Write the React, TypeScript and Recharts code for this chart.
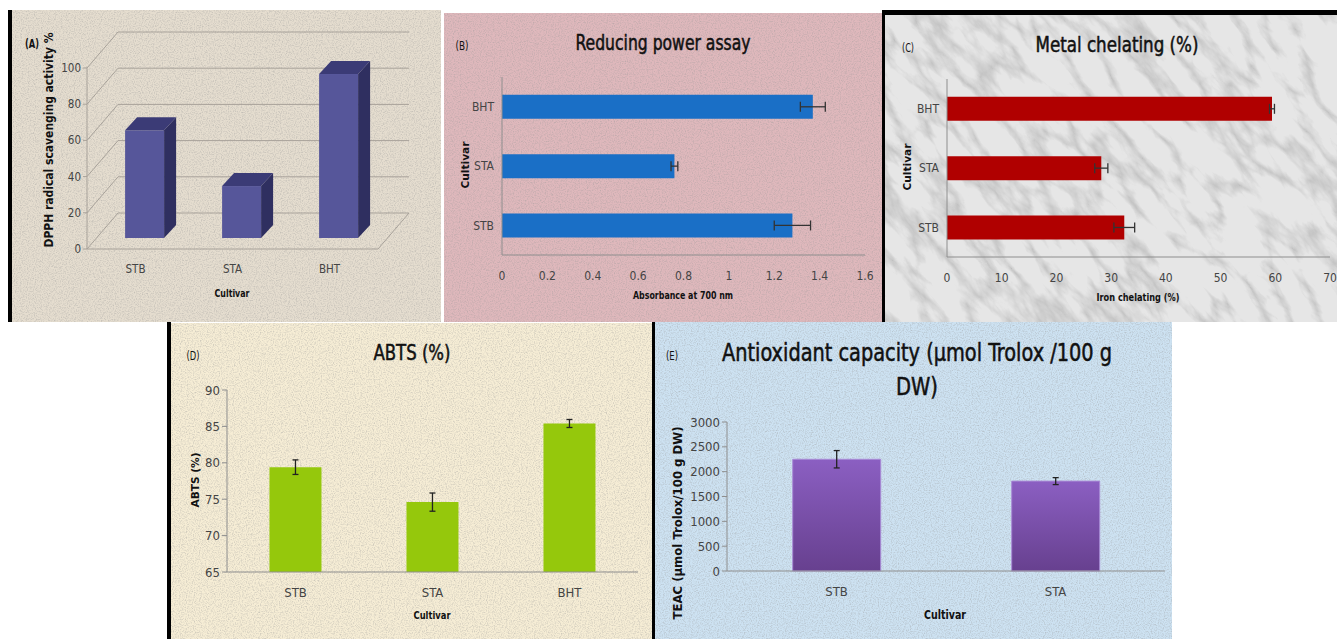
import React from "react";
import { BarChart, Bar, XAxis, YAxis, CartesianGrid, ErrorBar } from "recharts";

const NARROW = "'Liberation Sans Narrow', 'DejaVu Sans Condensed', Roboto, sans-serif";

// (A) DPPH radical scavenging
const dpphCultivars = ["STB", "STA", "BHT"];
const dpphValues = [59.5, 28.7, 90.6];
const dpphTicks = [0, 20, 40, 60, 80, 100];

// (B) Reducing power
const reducingCultivars = ["STB", "STA", "BHT"];
const reducingValues = [1.28, 0.76, 1.37];
const reducingErrors = [0.08, 0.015, 0.055];
const reducingTicks = [0, 0.2, 0.4, 0.6, 0.8, 1, 1.2, 1.4, 1.6];

// (C) Metal chelating
const chelatingCultivars = ["STB", "STA", "BHT"];
const chelatingValues = [32.4, 28.2, 59.4];
const chelatingErrors = [1.9, 1.2, 0.45];
const chelatingTicks = [0, 10, 20, 30, 40, 50, 60, 70];

// (D) ABTS
const abtsCultivars = ["STB", "STA", "BHT"];
const abtsValues = [79.4, 74.6, 85.4];
const abtsErrors = [1.0, 1.25, 0.55];
const abtsTicks = [65, 70, 75, 80, 85, 90];

// (E) TEAC
const teacCultivars = ["STB", "STA"];
const teacValues = [2250, 1810];
const teacErrors = [175, 70];
const teacTicks = [0, 500, 1000, 1500, 2000, 2500, 3000];

const dpphData = dpphCultivars.map((c, i) => ({ cultivar: c, value: dpphValues[i] }));
const reducingData = reducingCultivars.map((c, i) => ({ cultivar: c, value: reducingValues[i], err: reducingErrors[i] }));
const chelatingData = chelatingCultivars.map((c, i) => ({ cultivar: c, value: chelatingValues[i], err: chelatingErrors[i] }));
const abtsData = abtsCultivars.map((c, i) => ({ cultivar: c, value: abtsValues[i], err: abtsErrors[i] }));
const teacData = teacCultivars.map((c, i) => ({ cultivar: c, value: teacValues[i], err: teacErrors[i] }));

// 3d wall depth for panel A
const WALL_DX = 31;
const WALL_DY = 36;
const BOX_OX = 9;
const BOX_OY = 11;
const BOX_DX = 12;
const BOX_DY = 13;

function wallLine(props: any) {
  const { x1, y1, x2, y, height, index } = props;
  const stroke = "#a8a29a";
  const floor = Math.abs(y1 - (y + height)) < 0.5;
  return (
    <g key={`wall-${index}`}>
      <line x1={x1} y1={y1} x2={x1 + WALL_DX} y2={y1 - WALL_DY} stroke={stroke} />
      <line x1={x1 + WALL_DX} y1={y1 - WALL_DY} x2={x2 + WALL_DX} y2={y1 - WALL_DY} stroke={stroke} />
      {floor && (
        <>
          <line x1={x1} y1={y1} x2={x2} y2={y1} stroke={stroke} />
          <line x1={x2} y1={y1} x2={x2 + WALL_DX} y2={y1 - WALL_DY} stroke={stroke} />
        </>
      )}
    </g>
  );
}

function Box3D(props: any) {
  const { x, y, width, height } = props;
  const fx = x + BOX_OX;
  const fy = y - BOX_OY;
  const top = `${fx},${fy} ${fx + BOX_DX},${fy - BOX_DY} ${fx + width + BOX_DX},${fy - BOX_DY} ${fx + width},${fy}`;
  const side = `${fx + width},${fy} ${fx + width + BOX_DX},${fy - BOX_DY} ${fx + width + BOX_DX},${fy + height - BOX_DY} ${fx + width},${fy + height}`;
  return (
    <g>
      <rect x={fx} y={fy} width={width} height={height} fill="#56569a" />
      <polygon points={side} fill="#2f2f60" />
      <polygon points={top} fill="#3b3b76" />
    </g>
  );
}

type Label = {
  text: string;
  x: number;
  y: number;
  size: number;
  bold?: boolean;
  rotate?: boolean;
  title?: boolean;
  len?: number;
};

const labels: Label[] = [
  { text: "(A)", x: 32, y: 43, size: 13, bold: true, len: 14 },
  { text: "DPPH radical scavenging activity %", x: 49, y: 140, size: 11.5, bold: true, rotate: true, len: 215 },
  { text: "Cultivar", x: 232, y: 293, size: 11, bold: true, len: 35 },
  { text: "(B)", x: 462, y: 45, size: 13, len: 13 },
  { text: "Reducing power assay", x: 663, y: 43, size: 21, title: true, len: 175 },
  { text: "Cultivar", x: 465, y: 165, size: 11, bold: true, rotate: true, len: 47 },
  { text: "Absorbance at 700 nm", x: 683, y: 295, size: 11, bold: true, len: 100 },
  { text: "(C)", x: 908, y: 47, size: 13, len: 12 },
  { text: "Metal chelating (%)", x: 1117, y: 45, size: 21, title: true, len: 163 },
  { text: "Cultivar", x: 907, y: 167, size: 11, bold: true, rotate: true, len: 47 },
  { text: "Iron chelating (%)", x: 1138, y: 297, size: 11, bold: true, len: 83 },
  { text: "(D)", x: 193, y: 355, size: 13, len: 13 },
  { text: "ABTS (%)", x: 412, y: 353, size: 21, title: true, len: 77 },
  { text: "ABTS (%)", x: 195, y: 480, size: 11, bold: true, rotate: true, len: 55 },
  { text: "Cultivar", x: 432, y: 615, size: 11, bold: true, len: 37 },
  { text: "(E)", x: 672, y: 355, size: 13, len: 12 },
  { text: "Antioxidant capacity (µmol Trolox /100 g", x: 917, y: 353, size: 24, title: true, len: 390 },
  { text: "DW)", x: 917, y: 387, size: 24, title: true, len: 42 },
  { text: "TEAC (µmol Trolox/100 g DW)", x: 677, y: 523, size: 12.5, bold: true, rotate: true, len: 193 },
  { text: "Cultivar", x: 945, y: 615, size: 12, bold: true, len: 42 },
];

function Texture({ id, width, height, marble }: any) {
  if (marble) {
    return (
      <svg width={width} height={height} style={{ position: "absolute", left: 0, top: 0 }}>
        <filter id={id} x="0" y="0" width="100%" height="100%">
          <feTurbulence type="turbulence" baseFrequency="0.035 0.012" numOctaves={5} seed={7} />
          <feColorMatrix type="matrix" values="0 0 0 0 0.35  0 0 0 0 0.35  0 0 0 0 0.35  -1.6 0 0 0 0.55" />
        </filter>
        <g transform={`rotate(-40 ${width / 2} ${height / 2})`}>
          <rect x={-width} y={-height} width={width * 3} height={height * 3} filter={`url(#${id})`} />
        </g>
      </svg>
    );
  }
  return (
    <svg width={width} height={height} style={{ position: "absolute", left: 0, top: 0 }}>
      <filter id={id} x="0" y="0" width="100%" height="100%">
        <feTurbulence type="fractalNoise" baseFrequency="0.85" numOctaves={2} seed={3} />
        <feColorMatrix type="matrix" values="0 0 0 0 0.3  0 0 0 0 0.3  0 0 0 0 0.3  0.9 0 0 0 -0.38" />
      </filter>
      <rect width={width} height={height} filter={`url(#${id})`} />
    </svg>
  );
}

function Panel({ left, top, width, height, bg, id, marble, children }: any) {
  return (
    <div style={{ position: "absolute", left, top, width, height, background: bg, overflow: "hidden" }}>
      <Texture id={id} width={width} height={height} marble={marble} />
      {children}
    </div>
  );
}

function Strip({ left, top, width, height }: any) {
  return <div style={{ position: "absolute", left, top, width, height, background: "#000" }} />;
}

const axisStroke = "#8e8e8e";

export default function App() {
  const tick = (size: number) => ({ fontSize: size, fill: "#444", fontFamily: NARROW });
  return (
    <div style={{ position: "absolute", left: 0, top: 0, width: 1337, height: 639, background: "#fff", overflow: "hidden" }}>
      {/* (A) */}
      <Panel left={12} top={10} width={429} height={312} bg="#e5ddcf" id="texA">
        <BarChart width={429} height={312} data={dpphData} margin={{ top: 58, right: 63, bottom: 53, left: 45 }} barCategoryGap="30%">
          <CartesianGrid vertical={false} horizontal={wallLine} />
          <XAxis dataKey="cultivar" height={20} axisLine={false} tickLine={false} tickMargin={10} tick={tick(11.5)} />
          <YAxis type="number" domain={[0, 100]} ticks={dpphTicks} width={30} axisLine={{ stroke: "#a8a29a" }} tickLine={{ stroke: "#a8a29a" }} tickSize={4} tick={tick(11.5)} />
          <Bar dataKey="value" shape={<Box3D />} isAnimationActive={false} />
        </BarChart>
      </Panel>
      <Strip left={8} top={10} width={4} height={312} />

      {/* (B) */}
      <Panel left={444} top={13} width={438} height={309} bg="#dfb8bc" id="texB">
        <BarChart layout="vertical" width={438} height={309} data={reducingData} margin={{ top: 64, right: 17, bottom: 47, left: 28 }} barCategoryGap="30%">
          <XAxis type="number" domain={[0, 1.6]} ticks={reducingTicks} height={20} axisLine={{ stroke: axisStroke }} tickLine={false} tickMargin={10} tick={tick(12)} />
          <YAxis type="category" dataKey="cultivar" reversed width={30} axisLine={{ stroke: axisStroke }} tickLine={false} tick={tick(12)} />
          <Bar dataKey="value" fill="#1a6fc6" isAnimationActive={false}>
            <ErrorBar dataKey="err" direction="x" width={5} stroke="#333" strokeWidth={1.3} />
          </Bar>
        </BarChart>
      </Panel>

      {/* (C) */}
      <Panel left={885} top={15} width={452} height={307} bg="#e6e6e6" id="texC" marble>
        <BarChart layout="vertical" width={452} height={307} data={chelatingData} margin={{ top: 64, right: 7, bottom: 45, left: 32 }} barCategoryGap="30%">
          <XAxis type="number" domain={[0, 70]} ticks={chelatingTicks} height={20} axisLine={{ stroke: axisStroke }} tickLine={false} tickMargin={10} tick={tick(12)} />
          <YAxis type="category" dataKey="cultivar" reversed width={30} axisLine={{ stroke: axisStroke }} tickLine={false} tick={tick(12)} />
          <Bar dataKey="value" fill="#b00000" isAnimationActive={false}>
            <ErrorBar dataKey="err" direction="x" width={5} stroke="#333" strokeWidth={1.3} />
          </Bar>
        </BarChart>
      </Panel>
      <Strip left={882} top={10} width={455} height={5} />
      <Strip left={882} top={10} width={3} height={312} />

      {/* (D) */}
      <Panel left={171} top={323} width={481} height={316} bg="#f6edd5" id="texD">
        <BarChart width={481} height={316} data={abtsData} margin={{ top: 67, right: 14, bottom: 47, left: 16 }} barCategoryGap="31%">
          <XAxis dataKey="cultivar" height={20} axisLine={{ stroke: axisStroke }} tickLine={false} tickMargin={10} tick={tick(13)} />
          <YAxis type="number" domain={[65, 90]} ticks={abtsTicks} width={40} axisLine={{ stroke: axisStroke }} tickLine={{ stroke: axisStroke }} tickSize={5} tick={tick(13)} />
          <Bar dataKey="value" fill="#95c80c" isAnimationActive={false}>
            <ErrorBar dataKey="err" direction="y" width={3} stroke="#222" strokeWidth={1.3} />
          </Bar>
        </BarChart>
      </Panel>
      <Strip left={167} top={322} width={4} height={317} />

      {/* (E) */}
      <Panel left={655} top={322} width={517} height={317} bg="#cde2f2" id="texE">
        <BarChart width={517} height={317} data={teacData} margin={{ top: 100, right: 7, bottom: 48, left: 27 }} barCategoryGap="30%">
          <defs>
            <linearGradient id="teacFill" x1="0" y1="0" x2="0" y2="1">
              <stop offset="0%" stopColor="#8b5fc2" />
              <stop offset="100%" stopColor="#67408f" />
            </linearGradient>
          </defs>
          <XAxis dataKey="cultivar" height={20} axisLine={{ stroke: axisStroke }} tickLine={false} tickMargin={10} tick={tick(13)} />
          <YAxis type="number" domain={[0, 3000]} ticks={teacTicks} width={45} axisLine={{ stroke: axisStroke }} tickLine={{ stroke: axisStroke }} tickSize={5} tick={tick(13)} />
          <Bar dataKey="value" fill="url(#teacFill)" stroke="#a88ad6" strokeWidth={1} isAnimationActive={false}>
            <ErrorBar dataKey="err" direction="y" width={3} stroke="#222" strokeWidth={1.3} />
          </Bar>
        </BarChart>
      </Panel>
      <Strip left={652} top={322} width={3} height={317} />

      <svg width={1337} height={639} style={{ position: "absolute", left: 0, top: 0, pointerEvents: "none" }}>
        {labels.map((l, i) => (
          <text
            key={i}
            x={l.x}
            y={l.y}
            textAnchor="middle"
            dominantBaseline="central"
            fontFamily={NARROW}
            fontSize={l.size}
            fontWeight={l.bold ? 700 : 400}
            fill="#111"
            stroke={l.title ? "#111" : undefined}
            strokeWidth={l.title ? 0.5 : undefined}
            textLength={l.len}
            lengthAdjust="spacingAndGlyphs"
            transform={l.rotate ? `rotate(-90 ${l.x} ${l.y})` : undefined}
          >
            {l.text}
          </text>
        ))}
      </svg>
    </div>
  );
}
